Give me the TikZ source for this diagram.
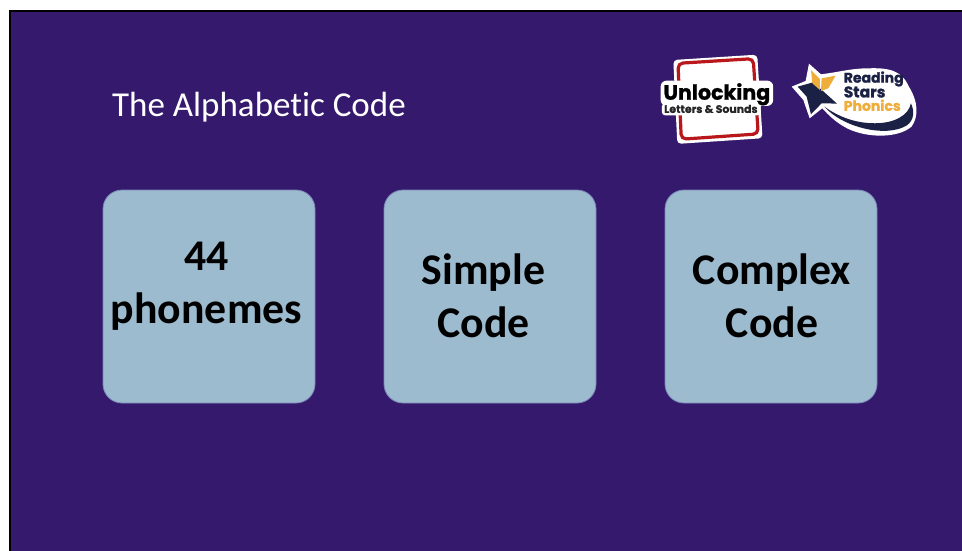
\documentclass[tikz,border=0pt]{standalone}
\usepackage{fontspec}
\setmainfont[Ligatures=NoCommon]{Carlito}
\newfontfamily\logofont[FakeBold=1.2]{Poppins}
\definecolor{slidebg}{HTML}{35196D}
\definecolor{boxfill}{HTML}{9DBBCE}
\definecolor{boxline}{HTML}{7A86B8}
\definecolor{logored}{HTML}{B8171C}
\definecolor{logonavy}{HTML}{1B2145}
\definecolor{logogold}{HTML}{EFAE3C}
\tikzset{
  card/.style={draw=boxline, fill=boxfill, line width=0.8pt, rounded corners=19pt, minimum width=212pt, minimum height=213pt, inner sep=0pt},
  cardtext/.style={font=\fontsize{43.8}{53}\selectfont\bfseries, align=center, text=black, inner sep=0pt},
  logotext/.style={inner sep=0pt, anchor=west}
}
\begin{document}
\begin{tikzpicture}[x=1pt, y=-1pt]
 \useasboundingbox (0,0) rectangle (962,550);

 %slide
 \fill[white] (0,0) rectangle (962,550);
 \draw[black, line width=2pt, fill=slidebg] (10,11) rectangle (964,552);
 \node[font=\fontsize{35}{40}\selectfont, text=white, anchor=west, inner sep=0pt] (title) at (112,107) {The Alphabetic Code};

 %boxes
 \foreach \i/\x/\tx/\ty/\name in {1/209/206.5/286/{44\\phonemes}, 2/490/483.5/295.5/{Simple\\Code}, 3/771/772/295.5/{Complex\\Code}} {
   \node[card] (box\i) at (\x,296.5) {};
   \node[cardtext] (boxtext\i) at (\tx,\ty) {\name};
 }

 %first logo
 \begin{scope}[shift={(640,40)}, x=0.333pt, y=-0.333pt]
  \fill[white, rounded corners=4pt] (100,60) -- (352,44) -- (368,295) -- (112,312) -- cycle;
  \draw[logored, line width=3.2pt, rounded corners=5pt] (114,70) -- (340,56) -- (355,282) -- (124,298) -- cycle;
  \fill[white, rounded corners=6pt] (62,122) rectangle (400,198);
  \fill[white, rounded corners=3pt] (66,190) rectangle (362,226);
  \node[logotext, font=\logofont\bfseries\fontsize{20.6}{20}\selectfont, text=black] (unlocking) at (70,163) {Unlocking};
  \node[logotext, font=\logofont\bfseries\fontsize{10.9}{10}\selectfont, text=black!85] (letters) at (72,207) {Letters \& Sounds};
 \end{scope}

 %second logo
 \begin{scope}[shift={(785,55)}, x=0.333pt, y=-0.333pt]
  \fill[white] (20,95) -- (62,78) -- (72,26) -- (108,58) .. controls (170,50) and (200,40) .. (250,40) .. controls (310,38) and (350,45) .. (372,95) .. controls (400,140) and (402,185) .. (380,215) .. controls (340,250) and (250,250) .. (190,222) .. controls (155,205) and (130,180) .. (112,160) -- (74,190) -- (55,135) -- cycle;
  \fill[logonavy] (38,95) -- (85,82) -- (125,118) -- (156,146) -- (110,145) -- (78,178) -- (65,125) -- cycle;
  \fill[logogold] (78,45) -- (105,72) -- (105,105) -- (82,85) -- cycle;
  \fill[logogold] (110,70) -- (152,62) -- (130,100) -- (108,108) -- cycle;
  \fill[logonavy] (118,155) .. controls (170,215) and (300,250) .. (365,212) .. controls (390,195) and (388,165) .. (378,145) .. controls (372,180) and (330,205) .. (270,205) .. controls (210,205) and (160,185) .. (118,155) -- cycle;
  \node[logotext, font=\logofont\bfseries\fontsize{14}{14}\selectfont, text=logonavy] (reading) at (176,72) {Reading};
  \node[logotext, font=\logofont\bfseries\fontsize{15.5}{14}\selectfont, text=logonavy] (stars) at (176,111) {Stars};
  \node[logotext, font=\logofont\bfseries\fontsize{14}{14}\selectfont, text=logogold] (phonics) at (176,151) {Phonics};
 \end{scope}
\end{tikzpicture}
\end{document}
